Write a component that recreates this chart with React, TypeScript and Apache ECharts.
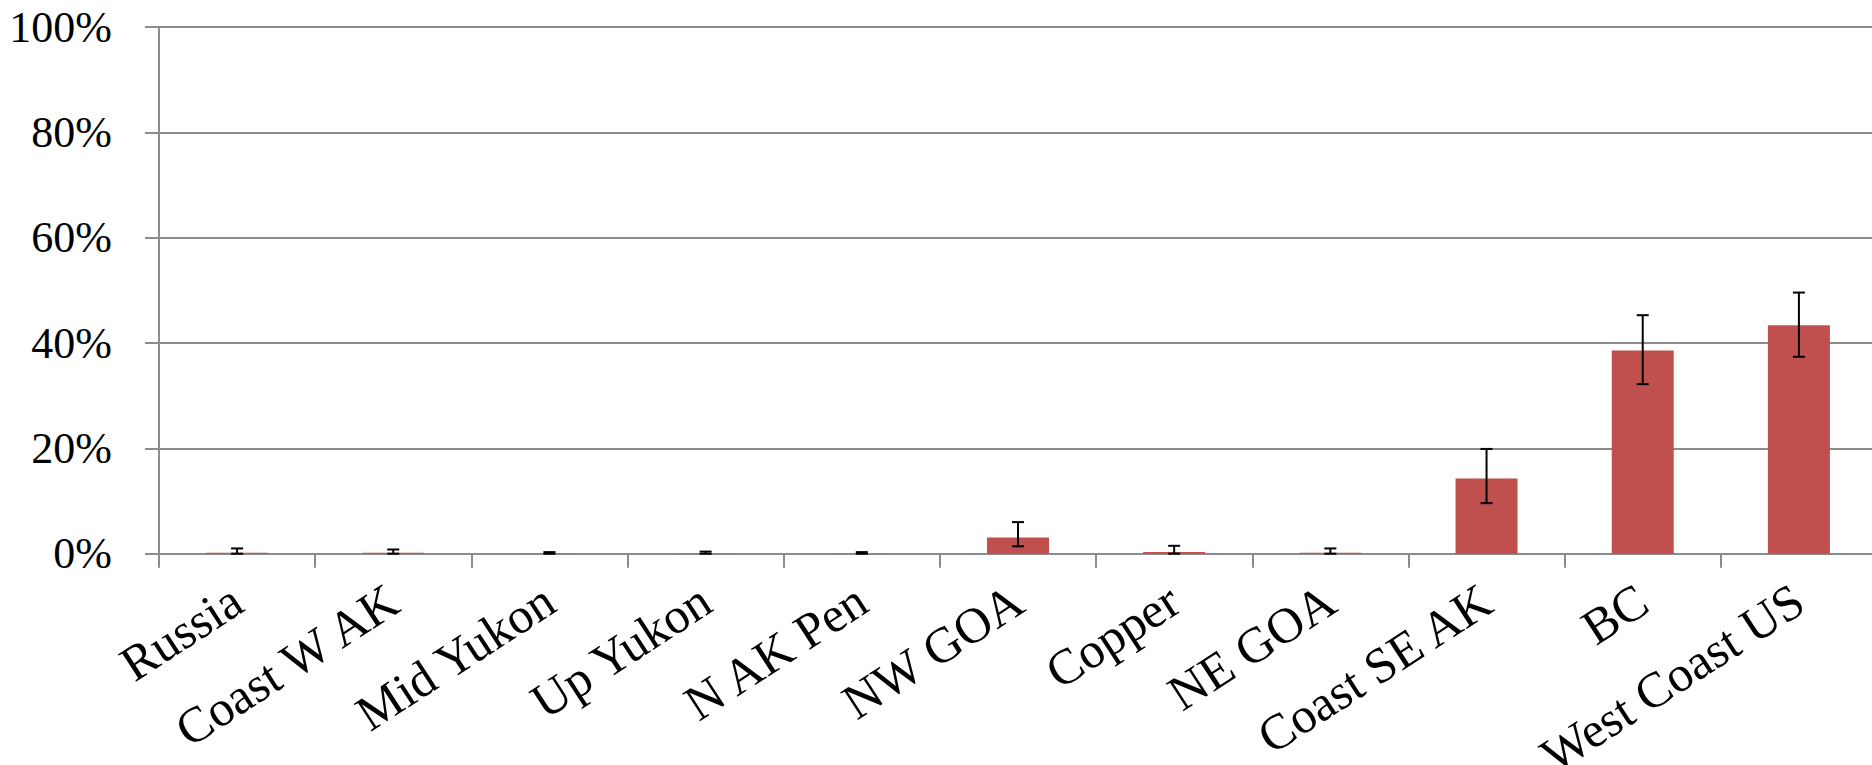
import React, { useEffect, useRef } from "react";
import * as echarts from "echarts";

const categories = [
  "Russia",
  "Coast W AK",
  "Mid Yukon",
  "Up Yukon",
  "N AK Pen",
  "NW GOA",
  "Copper",
  "NE GOA",
  "Coast SE AK",
  "BC",
  "West Coast US",
];
const values = [0.2, 0.2, 0.05, 0.05, 0.05, 3.1, 0.3, 0.2, 14.3, 38.6, 43.4];
const errLow = [0, 0, 0, 0, 0, 1.4, 0, 0, 9.6, 32.2, 37.4];
const errHigh = [1.0, 0.8, 0.3, 0.4, 0.3, 6.0, 1.5, 1.0, 19.9, 45.3, 49.6];
const yTicks = [0, 20, 40, 60, 80, 100];

export default function App() {
  const ref = useRef<HTMLDivElement>(null);
  useEffect(() => {
    if (!ref.current) return;
    const chart = echarts.init(ref.current, null, { renderer: "svg" });
    const font = "'Liberation Serif', 'Times New Roman', serif";
    const grey = "#8C8C8C";
    chart.setOption({
      animation: false,
      backgroundColor: "#ffffff",
      grid: {
        left: 159,
        top: 27.2,
        width: 1718,
        height: 526.5,
        containLabel: false,
        outerBoundsMode: "none",
      },
      xAxis: {
        type: "category",
        data: categories,
        boundaryGap: true,
        axisLine: { lineStyle: { color: grey, width: 2 } },
        axisTick: { show: true, length: 14, lineStyle: { color: grey, width: 2 }, alignWithLabel: false },
        axisLabel: {
          interval: 0,
          rotate: 33,
          margin: 42,
          color: "#000",
          fontFamily: font,
          fontSize: 50,
        },
      },
      yAxis: {
        type: "value",
        min: yTicks[0],
        max: yTicks[yTicks.length - 1],
        interval: 20,
        axisLine: { show: true, lineStyle: { color: grey, width: 2 } },
        axisTick: { show: true, length: 14, lineStyle: { color: grey, width: 2 } },
        splitLine: { show: true, lineStyle: { color: grey, width: 2 } },
        axisLabel: {
          formatter: "{value}%",
          margin: 47,
          color: "#000",
          fontFamily: font,
          fontSize: 44,
        },
      },
      series: [
        {
          type: "bar",
          data: values,
          barWidth: 62,
          itemStyle: { color: "#C0504D" },
          z: 2,
        },
        {
          type: "custom",
          z: 3,
          data: categories.map((c, i) => [i, errLow[i], errHigh[i]]),
          encode: { x: 0, y: [1, 2] },
          renderItem: (params: any, api: any) => {
            const idx = api.value(0);
            const lo = api.coord([idx, api.value(1)]);
            const hi = api.coord([idx, api.value(2)]);
            const hw = 6;
            const style = { stroke: "#000", lineWidth: 2 };
            return {
              type: "group",
              children: [
                { type: "line", shape: { x1: lo[0], y1: lo[1], x2: hi[0], y2: hi[1] }, style },
                { type: "line", shape: { x1: hi[0] - hw, y1: hi[1], x2: hi[0] + hw, y2: hi[1] }, style },
                { type: "line", shape: { x1: lo[0] - hw, y1: lo[1], x2: lo[0] + hw, y2: lo[1] }, style },
              ],
            };
          },
        },
      ],
    });
    return () => chart.dispose();
  }, []);
  return (
    <div
      ref={ref}
      style={{ position: "fixed", left: 0, top: 0, width: 1872, height: 765, background: "#fff" }}
    />
  );
}
